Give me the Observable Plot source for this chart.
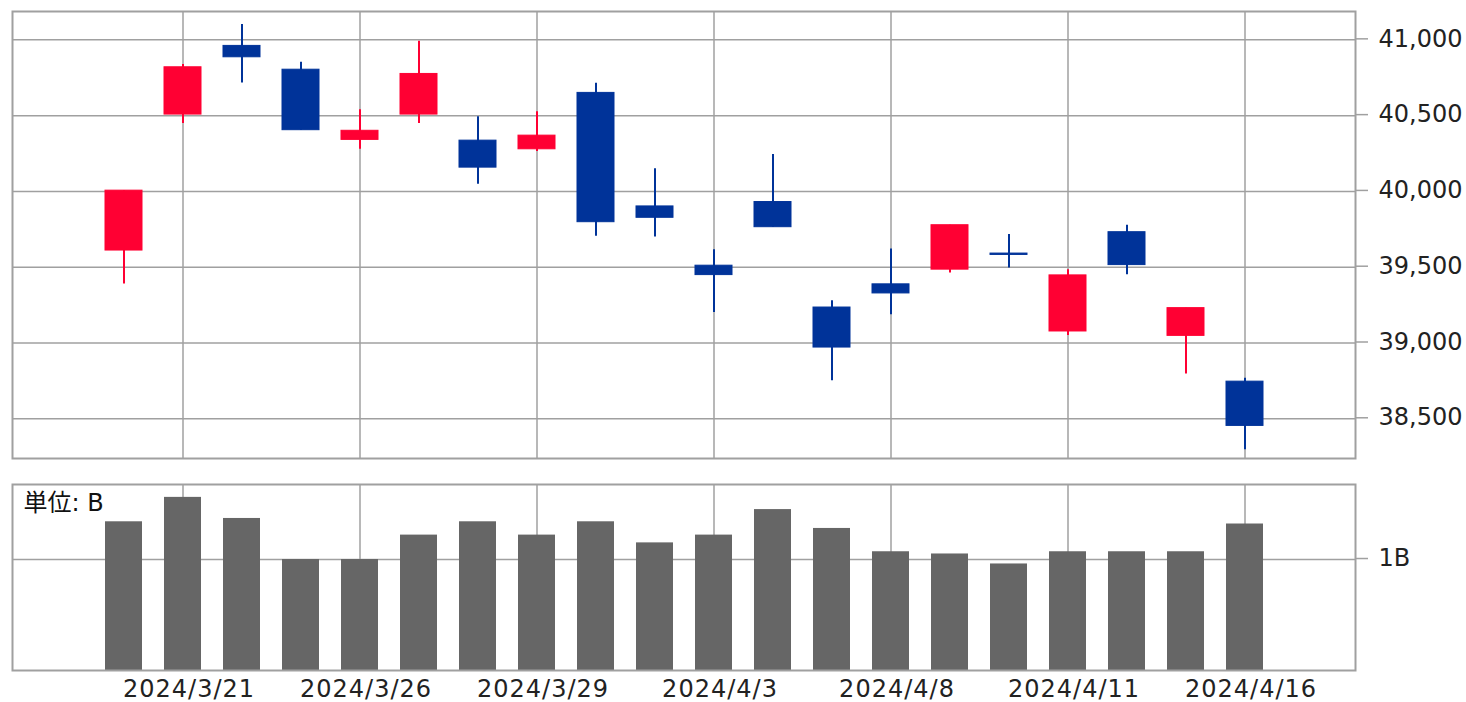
<!DOCTYPE html>
<html><head><meta charset="utf-8">
<script src="https://cdn.jsdelivr.net/npm/d3@7"></script>
<script src="https://cdn.jsdelivr.net/npm/@observablehq/plot@0.6"></script>
<style>
body{margin:0;background:#fff;}
#chart svg{display:block;}
g[aria-label="x-axis tick label"] text{letter-spacing:1px;}
</style></head><body><div id="chart"></div>
<script>
const dates = ["2024/3/19","2024/3/21","2024/3/22","2024/3/25","2024/3/26","2024/3/27","2024/3/28","2024/3/29","2024/4/1","2024/4/2","2024/4/3","2024/4/4","2024/4/5","2024/4/8","2024/4/9","2024/4/10","2024/4/11","2024/4/12","2024/4/15","2024/4/16"];
const openV  = [39610,40507,40960,40803,40340,40507,40335,40278,40650,39901,39510,39930,39234,39387,39484,39590,39076,39731,39047,38745];
const closeV = [40005,40819,40885,40404,40400,40775,40157,40368,39797,39826,39448,39764,38970,39327,39777,39581,39446,39514,39230,38453];
const highV  = [40005,40837,41101,40852,40539,40991,40492,40525,40714,40150,39616,40243,39279,39620,39777,39716,39484,39777,39230,38767];
const lowV   = [39389,40448,40715,40404,40278,40448,40047,40263,39705,39700,39201,39764,38751,39186,39462,39495,39049,39451,38796,38296];
const volume = [1.34,1.56,1.37,1.00,1.00,1.22,1.34,1.22,1.34,1.15,1.22,1.45,1.28,1.07,1.05,0.96,1.07,1.07,1.07,1.32];
const labelDates = ["2024/3/21","2024/3/26","2024/3/29","2024/4/3","2024/4/8","2024/4/11","2024/4/16"];
const priceTicks = [38500,39000,39500,40000,40500,41000];
const volumeTicks = [1];
const unitLabel = "単位: B";

const rows = dates.map((d,i)=>({date:d, open:openV[i], close:closeV[i], high:highV[i], low:lowV[i], volume:volume[i]}));
const UP = "#ff0033", DOWN = "#003399", GRID = "#a0a0a0";
const col = d => d.close >= d.open ? UP : DOWN;

const xOpts = {type:"band", domain:dates, paddingInner:0.374, paddingOuter:1.547};
const style = {fontFamily:"'DejaVu Sans', 'Noto Sans CJK JP', sans-serif", fontSize:"24px", color:"#222", background:"#fff", overflow:"visible"};

const topChart = Plot.plot({
  width:1466, height:470, marginTop:11, marginBottom:12, marginLeft:12, marginRight:111,
  style,
  x:{...xOpts, axis:null},
  y:{domain:[38238,41187]},
  marks:[
    Plot.gridY(priceTicks,{stroke:GRID, strokeOpacity:1, strokeWidth:1.5}),
    Plot.gridX(labelDates,{stroke:GRID, strokeOpacity:1, strokeWidth:1.5}),
    Plot.frame({stroke:GRID, strokeWidth:2}),
    Plot.axisY(priceTicks,{anchor:"right", label:null, tickSize:12, tickPadding:11, stroke:GRID, strokeWidth:1.5, fill:"#222", dy:-1, tickFormat:d3.format(",")}),
    Plot.ruleX(rows,{x:"date", y1:"low", y2:"high", stroke:col, strokeWidth:2}),
    Plot.barY(rows,{x:"date", y1:"open", y2:"close", fill:col, stroke:col, strokeWidth:1})
  ]
});

const bottomChart = Plot.plot({
  width:1466, height:232, marginTop:14, marginBottom:32, marginLeft:12, marginRight:111,
  style,
  x:{...xOpts},
  y:{domain:[0,1.676]},
  marks:[
    Plot.gridX(labelDates,{stroke:GRID, strokeOpacity:1, strokeWidth:1.5}),
    Plot.gridY(volumeTicks,{stroke:GRID, strokeOpacity:1, strokeWidth:1.5}),
    Plot.barY(rows,{x:"date", y:"volume", fill:"#666666"}),
    Plot.frame({stroke:GRID, strokeWidth:2}),
    Plot.axisY(volumeTicks,{anchor:"right", label:null, tickSize:12, tickPadding:11, stroke:GRID, strokeWidth:1.5, fill:"#222", dy:-1, tickFormat:()=>"1B"}),
    Plot.axisX(labelDates,{anchor:"bottom", label:null, tickSize:0, tickPadding:9, dx:6, fill:"#222"}),
    Plot.text([unitLabel],{frameAnchor:"top-left", dx:11, dy:9, fill:"#111", fontSize:24})
  ]
});

const el = document.getElementById("chart");
el.appendChild(topChart);
el.appendChild(bottomChart);
</script></body></html>
